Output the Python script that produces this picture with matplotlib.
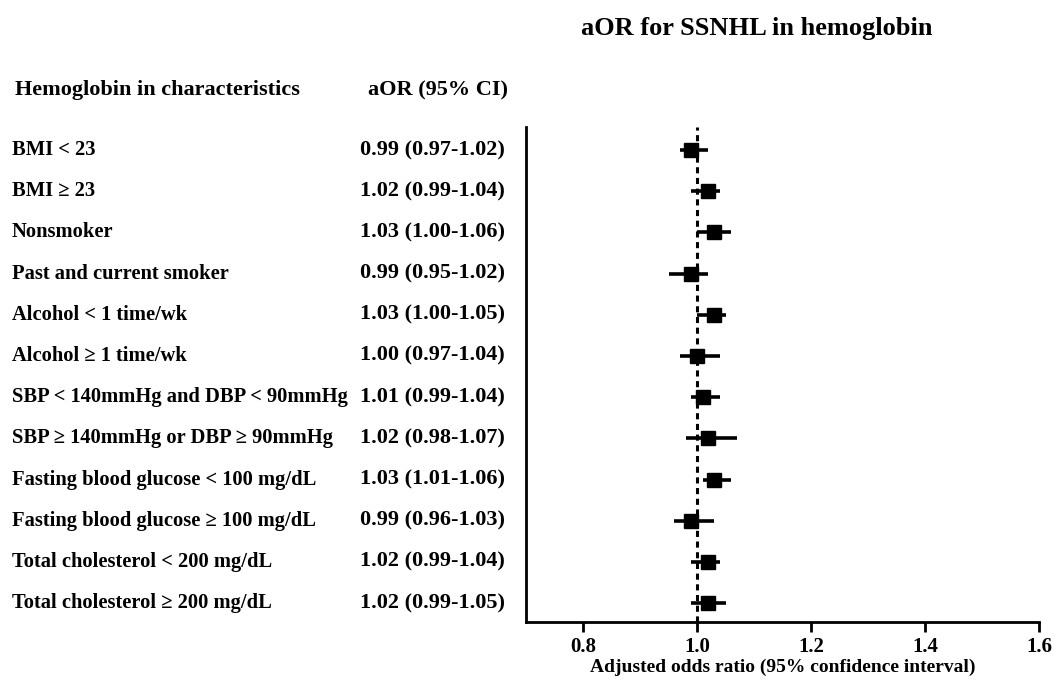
import matplotlib.pyplot as plt

plt.rcParams['font.family'] = ['Liberation Serif', 'DejaVu Serif']
plt.rcParams['font.weight'] = 'bold'

labels = [
    "BMI < 23",
    "BMI \u2265 23",
    "Nonsmoker",
    "Past and current smoker",
    "Alcohol < 1 time/wk",
    "Alcohol \u2265 1 time/wk",
    "SBP < 140mmHg and DBP < 90mmHg",
    "SBP \u2265 140mmHg or DBP \u2265 90mmHg",
    "Fasting blood glucose < 100 mg/dL",
    "Fasting blood glucose \u2265 100 mg/dL",
    "Total cholesterol < 200 mg/dL",
    "Total cholesterol \u2265 200 mg/dL",
]
aor = [0.99, 1.02, 1.03, 0.99, 1.03, 1.00, 1.01, 1.02, 1.03, 0.99, 1.02, 1.02]
lower = [0.97, 0.99, 1.00, 0.95, 1.00, 0.97, 0.99, 0.98, 1.01, 0.96, 0.99, 0.99]
upper = [1.02, 1.04, 1.06, 1.02, 1.05, 1.04, 1.04, 1.07, 1.06, 1.03, 1.04, 1.05]
xticks = [0.8, 1.0, 1.2, 1.4, 1.6]


def main():
    fig = plt.figure(figsize=(10.54, 6.8), dpi=100)
    ax = fig.add_axes([526 / 1054, 1 - 622 / 680, 513 / 1054, 495 / 680])

    rows = list(range(len(labels)))
    err = [[a - l for a, l in zip(aor, lower)], [u - a for a, u in zip(aor, upper)]]
    ax.errorbar(aor, rows, xerr=err, fmt='s', color='black', ms=9.5,
                elinewidth=2.6, capsize=0, zorder=3)
    ax.axvline(1.0, color='black', ls=(0, (2, 1.5)), lw=2.2, zorder=2)

    ax.set_xlim(0.7, 1.6)
    ax.set_ylim(len(labels) - 0.54, -0.56)
    ax.set_xticks(xticks)
    ax.set_xticklabels([f"{t:.1f}" for t in xticks], fontsize=15, fontweight='bold')
    ax.set_yticks([])
    ax.tick_params(axis='x', width=2, length=7, direction='out', pad=4)
    for s in ['top', 'right']:
        ax.spines[s].set_visible(False)
    for s in ['left', 'bottom']:
        ax.spines[s].set_linewidth(2)
    ax.set_xlabel("Adjusted odds ratio (95% confidence interval)",
                  fontsize=14, fontweight='bold', labelpad=1)

    # text columns
    for r, (lab, a, l, u) in enumerate(zip(labels, aor, lower, upper)):
        ax.annotate(lab, xy=(12 / 1054, 0), xycoords=('figure fraction', 'data'),
                    xytext=(0, r), textcoords=('offset points', 'data'),
                    fontsize=14.8, fontweight='bold', va='center', ha='left')
        ax.annotate(f"{a:.2f} ({l:.2f}-{u:.2f})", xy=(360 / 1054, 0),
                    xycoords=('figure fraction', 'data'),
                    xytext=(0, r), textcoords=('offset points', 'data'),
                    fontsize=16, fontweight='bold', va='center', ha='left')

    fig.text(15 / 1054, 1 - 90 / 680, "Hemoglobin in characteristics",
             fontsize=16, fontweight='bold', va='center')
    fig.text(368 / 1054, 1 - 90 / 680, "aOR (95% CI)",
             fontsize=16, fontweight='bold', va='center')
    fig.text(757 / 1054, 1 - 29 / 680, "aOR for SSNHL in hemoglobin",
             fontsize=19, fontweight='bold', va='center', ha='center')

    fig.savefig("out.png", dpi=100)


if __name__ == "__main__":
    main()
